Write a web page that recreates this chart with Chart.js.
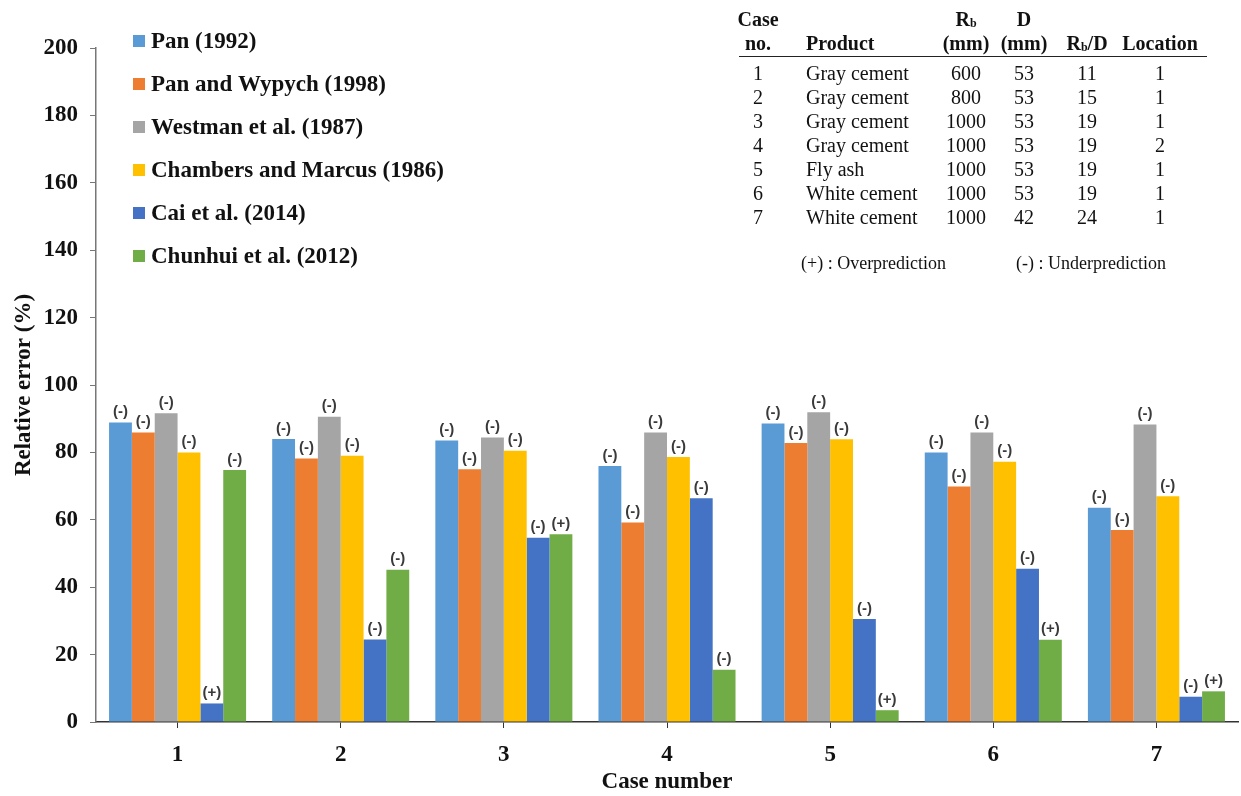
<!DOCTYPE html>
<html>
<head>
<meta charset="utf-8">
<script src="https://cdn.jsdelivr.net/npm/chart.js@4.4.1/dist/chart.umd.min.js"></script>
<style>
  html, body { margin: 0; padding: 0; background: #fff; }
  #wrap { position: relative; width: 1241px; height: 796px; }
  #grafico { position: absolute; left: 0; top: 0; }
  #tabela { position: absolute; left: 0; top: 0; width: 1241px; height: 796px; pointer-events: none;
            font-family: 'Liberation Serif', 'Times New Roman', serif; color: #111; }
  .cel { position: absolute; white-space: nowrap; font-size: 20px; line-height: 1; }
  .c { transform: translate(-50%, -50%); }
  .l { transform: translateY(-50%); }
  .b { font-weight: bold; }
  .cel sub { font-size: 0.6em; vertical-align: -0.15em; }
  .nota { font-size: 18px; }
  #linha { position: absolute; left: 739px; top: 56px; width: 468px; height: 0; border-top: 1.5px solid #222; }
</style>
</head>
<body>
<div id="wrap">
  <canvas id="grafico" width="1241" height="796"></canvas>
  <div id="tabela"><div id="linha"></div></div>
</div>
<script>
// ---------- dados ----------
const casos = ['1', '2', '3', '4', '5', '6', '7'];
const nomesSeries = ['Pan (1992)', 'Pan and Wypych (1998)', 'Westman et al. (1987)',
                     'Chambers and Marcus (1986)', 'Cai et al. (2014)', 'Chunhui et al. (2012)'];
const cores = ['#5B9BD5', '#ED7D31', '#A5A5A5', '#FFC000', '#4472C4', '#70AD47'];

const pan       = [88.9, 84.0, 83.5, 76.0, 88.6, 80.0, 63.6];
const panWypych = [85.9, 78.2, 75.0, 59.2, 82.8, 69.9, 57.0];
const westman   = [91.6, 90.6, 84.4, 85.9, 91.9, 85.9, 88.3];
const chambers  = [80.0, 79.0, 80.5, 78.6, 83.9, 77.2, 67.0];
const cai       = [5.5, 24.5, 54.7, 66.4, 30.6, 45.5, 7.5];
const chunhui   = [74.8, 45.2, 55.7, 15.5, 3.5, 24.4, 9.1];

// (+) superestimativa, (-) subestimativa
const sinaisPan       = ['-', '-', '-', '-', '-', '-', '-'];
const sinaisPanWypych = ['-', '-', '-', '-', '-', '-', '-'];
const sinaisWestman   = ['-', '-', '-', '-', '-', '-', '-'];
const sinaisChambers  = ['-', '-', '-', '-', '-', '-', '-'];
const sinaisCai       = ['+', '-', '-', '-', '-', '-', '-'];
const sinaisChunhui   = ['-', '-', '+', '-', '+', '+', '+'];

const valoresSeries = [pan, panWypych, westman, chambers, cai, chunhui];
const sinaisSeries = [sinaisPan, sinaisPanWypych, sinaisWestman, sinaisChambers, sinaisCai, sinaisChunhui];

// tabela de casos
const tabProduto  = ['Gray cement', 'Gray cement', 'Gray cement', 'Gray cement', 'Fly ash', 'White cement', 'White cement'];
const tabRb       = ['600', '800', '1000', '1000', '1000', '1000', '1000'];
const tabD        = ['53', '53', '53', '53', '53', '53', '42'];
const tabRbD      = ['11', '15', '19', '19', '19', '19', '24'];
const tabLocal    = ['1', '1', '1', '2', '1', '1', '1'];

const SERIF = "'Liberation Serif', 'Times New Roman', serif";

// ---------- tabela (HTML) ----------
function celula(html, x, y, cls) {
    const d = document.createElement('div');
    d.className = 'cel ' + cls;
    d.style.left = x + 'px';
    d.style.top = y + 'px';
    d.innerHTML = html;
    document.getElementById('tabela').appendChild(d);
}

function montarTabela() {
    celula('Case', 758, 19, 'c b');
    celula('no.', 758, 43, 'c b');
    celula('Product', 806, 43, 'l b');
    celula('R<sub>b</sub>', 966, 19, 'c b');
    celula('(mm)', 966, 43, 'c b');
    celula('D', 1024, 19, 'c b');
    celula('(mm)', 1024, 43, 'c b');
    celula('R<sub>b</sub>/D', 1087, 43, 'c b');
    celula('Location', 1160, 43, 'c b');

    casos.forEach((caso, i) => {
        const y = 73 + i * 24;
        celula(caso, 758, y, 'c');
        celula(tabProduto[i], 806, y, 'l');
        celula(tabRb[i], 966, y, 'c');
        celula(tabD[i], 1024, y, 'c');
        celula(tabRbD[i], 1087, y, 'c');
        celula(tabLocal[i], 1160, y, 'c');
    });

    celula('(+) : Overprediction', 801, 263, 'l nota');
    celula('(-) : Underprediction', 1016, 263, 'l nota');
}

// ---------- plugins ----------
// rótulos (+)/(-) acima das barras
const pluginSinais = {
    id: 'sinais',
    afterDatasetsDraw(chart) {
        const ctx = chart.ctx;
        ctx.save();
        ctx.font = "bold 15px 'Liberation Sans Narrow', 'Liberation Sans', sans-serif";
        ctx.fillStyle = '#3a3a3a';
        ctx.textAlign = 'center';
        ctx.textBaseline = 'bottom';
        chart.data.datasets.forEach((ds, i) => {
            const meta = chart.getDatasetMeta(i);
            meta.data.forEach((bar, j) => {
                ctx.fillText('(' + sinaisSeries[i][j] + ')', bar.x, bar.y - 3);
            });
        });
        ctx.restore();
    }
};

// legenda dentro da área do gráfico, canto superior esquerdo
const pluginLegenda = {
    id: 'legendaInterna',
    afterDraw(chart) {
        const ctx = chart.ctx;
        ctx.save();
        ctx.font = 'bold 23px ' + SERIF;
        ctx.textBaseline = 'middle';
        ctx.textAlign = 'left';
        chart.data.datasets.forEach((ds, i) => {
            const y = 41 + i * 43;
            ctx.fillStyle = ds.backgroundColor;
            ctx.fillRect(133, y - 6, 12, 12);
            ctx.fillStyle = '#111';
            ctx.fillText(ds.label, 151, y + 1);
        });
        ctx.restore();
    }
};

const pluginFundo = {
    id: 'fundo',
    beforeDraw(chart) {
        const ctx = chart.ctx;
        ctx.save();
        ctx.fillStyle = '#fff';
        ctx.fillRect(0, 0, chart.width, chart.height);
        ctx.restore();
    }
};

// ---------- gráfico ----------
function inicializarGrafico() {
    const ctx = document.getElementById('grafico');

    Chart.defaults.font.family = SERIF;
    Chart.defaults.color = '#111';

    new Chart(ctx, {
        type: 'bar',
        data: {
            labels: casos,
            datasets: nomesSeries.map((nome, i) => ({
                label: nome,
                data: valoresSeries[i],
                backgroundColor: cores[i],
                borderWidth: 0,
                categoryPercentage: 0.84,
                barPercentage: 1.0
            }))
        },
        options: {
            responsive: false,
            animation: false,
            layout: { padding: { top: 48, right: 3, bottom: 0, left: 0 } },
            plugins: {
                legend: { display: false },
                tooltip: { enabled: false }
            },
            scales: {
                x: {
                    afterFit: scale => { scale.height = 74; },
                    grid: {
                        display: true,
                        offset: false,
                        drawOnChartArea: false,
                        drawTicks: true,
                        tickLength: 6,
                        color: '#333'
                    },
                    border: { display: true, color: '#333', width: 1.5 },
                    ticks: {
                        font: { size: 23, weight: 'bold' },
                        color: '#111',
                        padding: 13
                    },
                    title: {
                        display: true,
                        text: 'Case number',
                        font: { size: 23, weight: 'bold' },
                        color: '#111',
                        padding: { top: 0, bottom: 0 }
                    }
                },
                y: {
                    min: 0,
                    max: 200,
                    afterFit: scale => { scale.width = 96; },
                    grid: {
                        display: true,
                        drawOnChartArea: false,
                        drawTicks: true,
                        tickLength: 6,
                        color: '#777'
                    },
                    border: { display: true, color: '#777', width: 1.5 },
                    ticks: {
                        stepSize: 20,
                        font: { size: 23, weight: 'bold' },
                        color: '#111',
                        padding: 12
                    },
                    title: {
                        display: true,
                        text: 'Relative error (%)',
                        font: { size: 23, weight: 'bold' },
                        color: '#111',
                        padding: { top: 10, bottom: 0 }
                    }
                }
            }
        },
        plugins: [pluginFundo, pluginSinais, pluginLegenda]
    });
}

document.addEventListener('DOMContentLoaded', function() {
    montarTabela();
    inicializarGrafico();
});
</script>
</body>
</html>
